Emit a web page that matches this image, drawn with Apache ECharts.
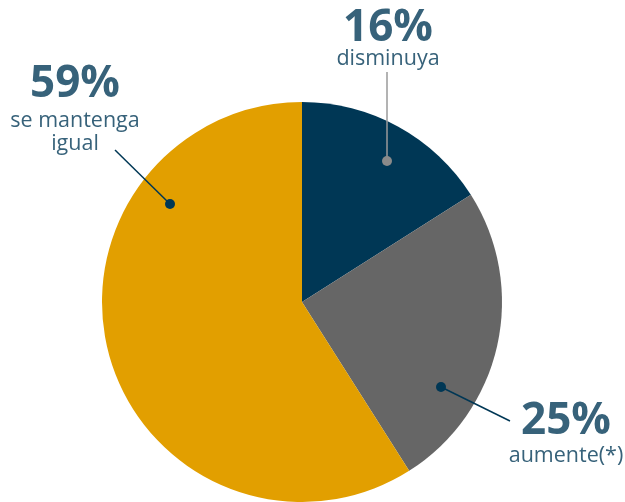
<!DOCTYPE html>
<html>
<head>
<meta charset="utf-8">
<script src="https://cdn.jsdelivr.net/npm/echarts@6/dist/echarts.min.js"></script>
<style>
html,body{margin:0;padding:0;background:#fff;}
#main{width:625px;height:502px;}
</style>
</head>
<body>
<div id="main"></div>
<script>
const categories = ['disminuya', 'aumente(*)', 'se mantenga\nigual'];
const values = [16, 25, 59];
const colors = ['#003755', '#666666', '#e29f00'];

const chart = echarts.init(document.getElementById('main'));
const cx = 302, cy = 302, R = 200;
const textColor = '#37627a';

// annotation layout (positions only)
const ann = [
  {dot:[387,161], lineEnd:[387,72], dotColor:'#8a8a8a', lineColor:'#9a9a9a',
   pct:[388,50], name:[388,70], align:'center'},
  {dot:[441,387], lineEnd:[510,421], dotColor:'#003755', lineColor:'#003755',
   pct:[566,443], name:[566,467], align:'center'},
  {dot:[170,204], lineEnd:[115,150], dotColor:'#003755', lineColor:'#003755',
   pct:[75,106], name:[75,132], align:'center'}
];

const graphic = [];
ann.forEach((a, i) => {
  graphic.push({type:'line', z:10, shape:{x1:a.dot[0], y1:a.dot[1], x2:a.lineEnd[0], y2:a.lineEnd[1]},
    style:{stroke:a.lineColor, lineWidth:1.5}});
  graphic.push({type:'circle', z:11, shape:{cx:a.dot[0], cy:a.dot[1], r:5}, style:{fill:a.dotColor}});
  graphic.push({type:'text', z:12, x:a.pct[0], y:a.pct[1],
    style:{text: values[i] + '%', fill:textColor, font:'bold 44px "Open Sans"', textAlign:a.align, textVerticalAlign:'bottom'}});
  const lines = categories[i].split('\n');
  lines.forEach((t, k) => {
    graphic.push({type:'text', z:12, x:a.name[0], y:a.name[1] + k*23,
      style:{text:t, fill:textColor, font:'21.5px "Open Sans"', textAlign:a.align, textVerticalAlign:'bottom'}});
  });
});

chart.setOption({
  animation:false,
  backgroundColor:'#fff',
  series:[{
    type:'pie',
    center:[cx, cy],
    radius:[0, R],
    startAngle:90,
    clockwise:true,
    label:{show:false},
    labelLine:{show:false},
    emphasis:{disabled:true},
    data: categories.map((c, i) => ({name:c, value:values[i], itemStyle:{color:colors[i]}}))
  }],
  graphic: graphic
});
</script>
</body>
</html>
